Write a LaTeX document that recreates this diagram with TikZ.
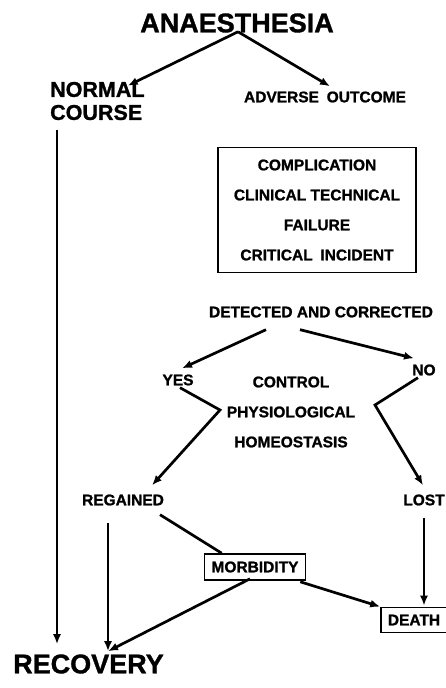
\documentclass[tikz,border=0pt]{standalone}
\usepackage{fontspec}
\setmainfont{Liberation Sans}[BoldFeatures={FakeBold=1.2}]
\usetikzlibrary{arrows.meta}

\begin{document}
\begin{tikzpicture}[x=1pt, y=-1pt,
  every node/.style={align=center, inner sep=0pt, font=\bfseries\fontsize{15.5}{30}\selectfont},
  big/.style={font=\bfseries\fontsize{27}{30}\selectfont},
  mid/.style={font=\bfseries\fontsize{21.5}{23}\selectfont},
  frame/.style={draw, line width=1.6pt},
  flow/.style={line width=2.7pt, -{Latex[length=10pt,width=8pt]}},
  bare/.style={line width=2.7pt}]
\useasboundingbox (0,0) rectangle (446,688);

\node[big] (an) at (237,23) {ANAESTHESIA};
\node[mid, align=left, anchor=west] (nc) at (50,101) {NORMAL\\COURSE};
\node (ao) at (325,97) {ADVERSE\enspace OUTCOME};
\node[frame, minimum width=198pt, minimum height=125pt] (ev) at (317,210)
  {COMPLICATION\\CLINICAL TECHNICAL\\FAILURE\\CRITICAL\enspace INCIDENT};
\node (dc) at (321,312) {DETECTED AND CORRECTED};
\node (yes) at (178,380) {YES};
\node (no) at (424,370) {NO};
\node (ph) at (291,412) {CONTROL\\PHYSIOLOGICAL\\HOMEOSTASIS};
\node (rg) at (123,500) {REGAINED};
\node (lo) at (424,500) {LOST};
\node[frame, minimum width=101pt, minimum height=26pt] (mb) at (255,567) {MORBIDITY};
\node[frame, minimum width=66pt, minimum height=25pt] (de) at (414,620) {DEATH};
\node[big, anchor=west] (rc) at (13,664) {RECOVERY};

% bends of the two brackets and the free ends
\coordinate (ylo) at (220,410);
\coordinate (nlo) at (375,405);
\coordinate (top) at (57,130);
\coordinate (rin) at (108,523);

\draw[flow] (an.south) ++(1,-1) -- ([xshift=-17pt,yshift=-4pt]nc.north east);
\draw[flow] (an.south) ++(1,-1) -- ([xshift=5pt,yshift=5pt]ao.north);
\draw[flow] ([xshift=-55pt,yshift=-12pt]dc.south) -- ([xshift=4pt,yshift=6pt]yes.north);
\draw[flow] ([xshift=-21pt,yshift=-12pt]dc.south) -- ([xshift=-10pt,yshift=6pt]no.north);
\draw[flow] ([xshift=2pt,yshift=-2pt]yes.south) -- (ylo) -- ([xshift=29pt,yshift=9pt]rg.north);
\draw[flow] ([xshift=-6pt,yshift=-2pt]no.south) -- (nlo) -- ([xshift=-1pt,yshift=9pt]lo.north);
\draw[bare] ([xshift=37pt,yshift=-9pt]rg.south) -- ([xshift=18pt]mb.north west);
\draw[flow] (top) -- ([yshift=10pt]top |- rc.north);
\draw[flow] (rin) -- ([yshift=3pt]rin |- rc.north);
\draw[flow] ([xshift=-5pt,yshift=2pt]mb.south) -- ([yshift=3pt]rin |- rc.north);
\draw[flow] ([xshift=-6pt,yshift=-1pt]mb.south east) -- (de.north west);
\draw[flow] ([yshift=-12pt]lo.south) -- ([yshift=1pt]lo.south |- de.north);
\end{tikzpicture}
\end{document}
